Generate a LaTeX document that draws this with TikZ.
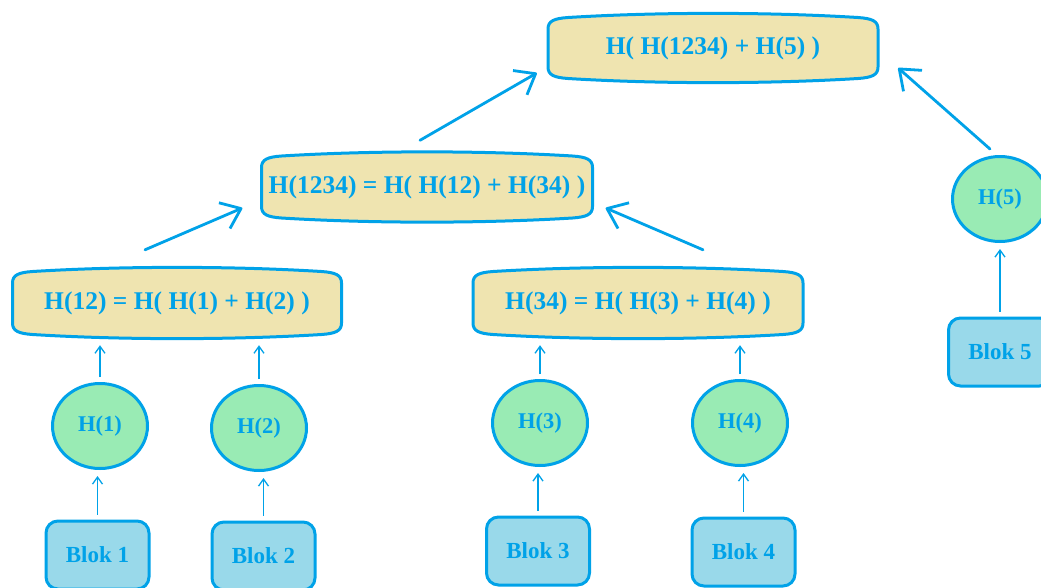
\documentclass[tikz,border=0pt]{standalone}
\usepackage{fontspec}
\setmainfont{Liberation Serif}
\usetikzlibrary{arrows.meta,calc,shapes.geometric}
\definecolor{pblue}{RGB}{0,162,232}
\definecolor{ptan}{RGB}{239,228,176}
\definecolor{pgreen}{RGB}{153,235,180}
\definecolor{pturq}{RGB}{153,217,234}
\tikzset{
  tapeline/.style={draw=pblue, fill=ptan, line width=3pt, line join=round},
  formula/.style={draw=none, inner sep=0pt, text=pblue, font=\fontsize{25.5}{30}\selectfont\bfseries},
  hnode/.style={ellipse, draw=pblue, fill=pgreen, line width=3pt, minimum width=95pt, minimum height=85pt, inner sep=0pt, text=pblue, font=\fontsize{22.5}{27}\selectfont\bfseries},
  bloknode/.style={rectangle, rounded corners=12pt, draw=pblue, fill=pturq, line width=3pt, minimum width=103pt, minimum height=68pt, inner sep=0pt, text=pblue, font=\fontsize{23}{27}\selectfont\bfseries},
  thinarrow/.style={draw=pblue, line width=1.3pt, -{Straight Barb[length=7pt,width=10pt]}, shorten <=5pt, shorten >=6pt},
  thickarrow/.style={draw=pblue, line width=2.8pt, line cap=round, -{Straight Barb[length=18pt,width=28pt,line join=round]}}
}
\newcommand\tapenode[6]{%
  \begin{scope}[shift={(#2,#3)}]
    \pgfmathsetmacro\ta{#4/2}\pgfmathsetmacro\tb{#5/2}
    \filldraw[tapeline] (-\ta,-\tb+16) -- (-\ta,\tb-16)
      .. controls (-\ta,\tb-8) and (-\ta+6,\tb-5.5) .. (-\ta+20,\tb-4.5)
      .. controls (-\ta/3,\tb+1) and (\ta/3,\tb+1) .. (\ta-20,\tb-4.5)
      .. controls (\ta-6,\tb-5.5) and (\ta,\tb-8) .. (\ta,\tb-16)
      -- (\ta,-\tb+16)
      .. controls (\ta,-\tb+8) and (\ta-6,-\tb+5.5) .. (\ta-20,-\tb+4.5)
      .. controls (\ta/3,-\tb-1) and (-\ta/3,-\tb-1) .. (-\ta+20,-\tb+4.5)
      .. controls (-\ta+6,-\tb+5.5) and (-\ta,-\tb+8) .. (-\ta,-\tb+16) -- cycle;
  \end{scope}
  \node[formula, minimum width=#4pt, minimum height=#5pt] (#1) at (#2,#3) {#6};
}
\begin{document}
\begin{tikzpicture}[x=1pt,y=-1pt]
  \useasboundingbox (0,0) rectangle (1041,587);
  \fill[white] (0,0) rectangle (1041,587);

  \tapenode{top}{713}{48}{330}{70}{H( H(1234) + H(5) )}
  \tapenode{mid}{427}{187}{331}{71}{H(1234) = H( H(12) + H(34) )}
  \tapenode{fa}{177}{303}{329}{72}{H(12) = H( H(1) + H(2) )}
  \tapenode{fb}{638}{303}{330}{72}{H(34) = H( H(3) + H(4) )}

  \node[hnode] (h1) at (100,426) {H(1)};
  \node[hnode] (h2) at (259,428) {H(2)};
  \node[hnode] (h3) at (540,423) {H(3)};
  \node[hnode] (h4) at (740,423) {H(4)};
  \node[hnode] (h5) at (1000,199) {H(5)};

  \node[bloknode] (b1) at (97.5,555) {Blok 1};
  \node[bloknode] (b2) at (263.5,556) {Blok 2};
  \node[bloknode] (b3) at (538,551) {Blok 3};
  \node[bloknode] (b4) at (743.5,552) {Blok 4};
  \node[bloknode] (b5) at (1000,352) {Blok 5};

  % thin arrows: blocks -> hashes
  \draw[thinarrow] (b1.north) -- (b1.north |- h1.south);
  \draw[thinarrow] (b2.north) -- (b2.north |- h2.south);
  \draw[thinarrow] (b3.north) -- (b3.north |- h3.south);
  \draw[thinarrow] (b4.north) -- (b4.north |- h4.south);
  \draw[thinarrow] (b5.north) -- (b5.north |- h5.south);
  % thin arrows: hashes -> formula boxes
  \draw[thinarrow] (h1.north) -- (h1.north |- fa.south);
  \draw[thinarrow] (h2.north) -- (h2.north |- fa.south);
  \draw[thinarrow] (h3.north) -- (h3.north |- fb.south);
  \draw[thinarrow] (h4.north) -- (h4.north |- fb.south);

  % thick arrows
  \draw[thickarrow] ([shift={(-32,-17)}]fa.north) -- ([shift={(-19,21)}]mid.west);
  \draw[thickarrow] ([shift={(65,-17)}]fb.north) -- ([shift={(13,21)}]mid.east);
  \draw[thickarrow] ([shift={(-7,-11)}]mid.north) -- ([shift={(-11,25)}]top.west);
  \draw[thickarrow] ([shift={(-10,-6)}]h5.north) -- ([shift={(20,20)}]top.east);
\end{tikzpicture}
\end{document}
